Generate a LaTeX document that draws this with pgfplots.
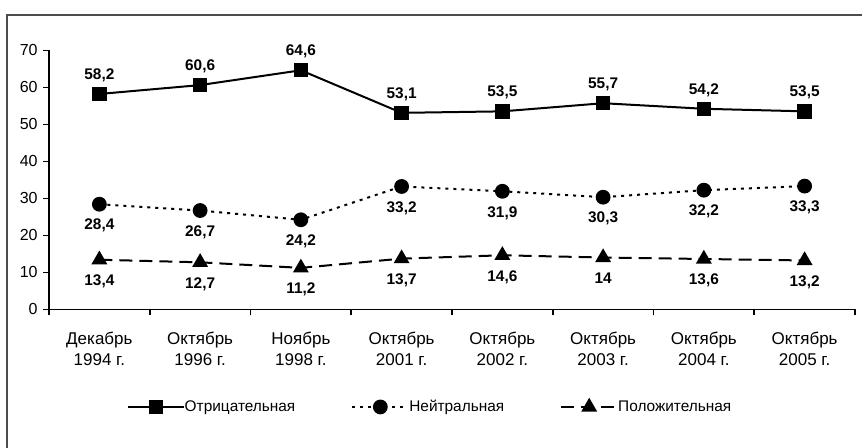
\documentclass[border=0pt]{standalone}
\usepackage{fontspec}
\setmainfont{Liberation Sans}
\usepackage{pgfplots}
\pgfplotsset{compat=1.18}
\begin{document}
\fontsize{7.5}{9}\selectfont
\begin{tikzpicture}
\useasboundingbox (0pt,0pt) rectangle (431pt,223.5pt);
\begin{scope}
\clip (0pt,0pt) rectangle (431pt,223.5pt);
\draw[black!70, line width=0.7pt] (3.5pt,216pt) rectangle (440pt,-10pt);
\end{scope}
\begin{axis}[
 at={(24.5pt,68.85pt)}, anchor=south west,
 scale only axis, width=403pt, height=129.5pt,
 xmin=-0.5, xmax=7.5, ymin=0, ymax=70,
 axis x line=bottom, axis y line=left,
 axis line style={-, line width=0.8pt},
 ytick={0,10,20,30,40,50,60,70},
 xtick={-0.5,0.5,1.5,2.5,3.5,4.5,5.5,6.5,7.5},
 x tick label as interval,
 xticklabels={{Декабрь\\1994 г.},{Октябрь\\1996 г.},{Ноябрь\\1998 г.},{Октябрь\\2001 г.},{Октябрь\\2002 г.},{Октябрь\\2003 г.},{Октябрь\\2004 г.},{Октябрь\\2005 г.}},
 tick align=outside, major tick length=3pt,
 tick style={black, line width=0.8pt},
 yticklabel style={font=\fontsize{8}{10}\selectfont},
 xticklabel style={align=center, yshift=-5.5pt, font=\fontsize{8.5}{10.5}\selectfont},
 /pgf/number format/assume math mode=true,
 /pgf/number format/use comma,
 /pgf/number format/fixed,
 /pgf/number format/precision=1,
 clip=false,
 every node near coord/.append style={font=\bfseries\fontsize{7.7}{9}\selectfont, black},
 legend style={at={(0.474,-0.377)}, anchor=center, draw=none, fill=none,
   legend columns=3, font=\fontsize{7.7}{9}\selectfont,
   /tikz/every even column/.append style={column sep=26pt},
   /tikz/every odd column/.append style={column sep=-2pt}},
 legend image code/.code={\draw[mark repeat=2,mark phase=2] plot coordinates {(0pt,0pt) (14pt,0pt) (28pt,0pt)};},
]
\addplot[black, line width=1pt, mark=square*, mark size=3.1pt, mark options={solid},
  nodes near coords, every node near coord/.append style={anchor=south, yshift=3pt}]
 coordinates {(0,58.2) (1,60.6) (2,64.6) (3,53.1) (4,53.5) (5,55.7) (6,54.2) (7,53.5)};
\addlegendentry{Отрицательная}
\addplot[black, line width=1pt, dash pattern=on 1.5pt off 2.5pt, mark=*, mark size=3.2pt, mark options={solid},
  nodes near coords, every node near coord/.append style={anchor=north, yshift=-4.5pt}]
 coordinates {(0,28.4) (1,26.7) (2,24.2) (3,33.2) (4,31.9) (5,30.3) (6,32.2) (7,33.3)};
\addlegendentry{Нейтральная}
\addplot[black, line width=1pt, dash pattern=on 6.5pt off 3.5pt, mark=triangle*, mark size=3.6pt, mark options={solid},
  nodes near coords, every node near coord/.append style={anchor=north, yshift=-4.5pt}]
 coordinates {(0,13.4) (1,12.7) (2,11.2) (3,13.7) (4,14.6) (5,14) (6,13.6) (7,13.2)};
\addlegendentry{Положительная}
\end{axis}
\end{tikzpicture}
\end{document}
